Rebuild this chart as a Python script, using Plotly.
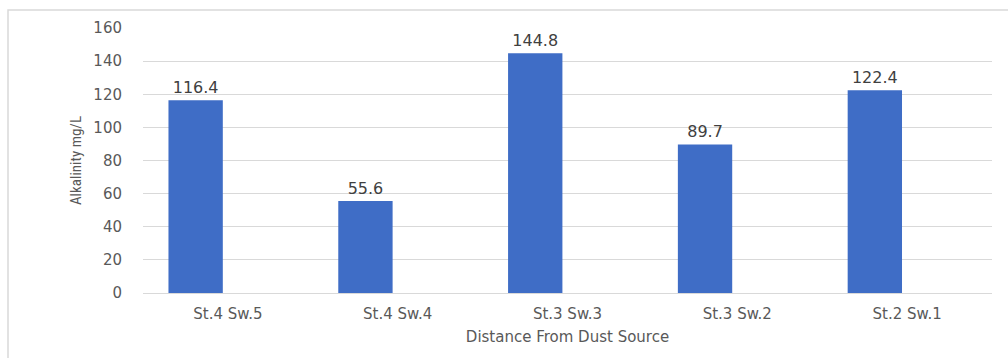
import plotly.graph_objects as go

# Alkalinity measured at each sampling station
stations = ["St.4 Sw.5", "St.4 Sw.4", "St.3 Sw.3", "St.3 Sw.2", "St.2 Sw.1"]
alkalinity = [116.4, 55.6, 144.8, 89.7, 122.4]
y_ticks = [0, 20, 40, 60, 80, 100, 120, 140, 160]

grey_text = "#595959"
grid_col = "#D9D9D9"

fig = go.Figure()
fig.add_trace(go.Bar(
    x=stations,
    y=alkalinity,
    width=0.32,
    offset=-0.35,
    marker=dict(color="#3F6DC6", line=dict(width=0)),
    text=[f"{v:.1f}" for v in alkalinity],
    textposition="outside",
    cliponaxis=False,
    textfont=dict(family="DejaVu Sans", size=16, color="#404040"),
    hoverinfo="x+y",
))

fig.update_layout(
    width=1008,
    height=358,
    margin=dict(l=143, r=16, t=28, b=65),
    paper_bgcolor="white",
    plot_bgcolor="white",
    showlegend=False,
    font=dict(family="DejaVu Sans", color=grey_text),
)

fig.update_xaxes(
    type="category",
    showgrid=False,
    showline=True,
    linecolor=grid_col,
    linewidth=1,
    ticks="",
    tickfont=dict(family="DejaVu Sans", size=15, color=grey_text),
    ticklabelstandoff=7,
    title=dict(text="Distance From Dust Source",
               font=dict(family="DejaVu Sans", size=15, color=grey_text),
               standoff=9),
)

fig.update_yaxes(
    range=[0, 160],
    tickvals=y_ticks,
    showgrid=True,
    gridcolor=grid_col,
    gridwidth=1,
    zeroline=False,
    showline=False,
    ticks="",
    tickfont=dict(family="DejaVu Sans", size=15, color=grey_text),
    ticklabelstandoff=20,
    title=dict(text="Alkalinity mg/L",
               font=dict(family="Liberation Sans Narrow, Roboto Condensed, Arial Narrow, Roboto",
                         size=15, color=grey_text),
               standoff=8),
)

# Chart frame
fig.add_shape(type="rect", xref="paper", yref="paper",
              x0=-0.159, x1=1.2, y0=-0.5, y1=1.068,
              line=dict(color=grid_col, width=1.5), fillcolor="rgba(0,0,0,0)",
              layer="below")

fig.write_html("out.html")
